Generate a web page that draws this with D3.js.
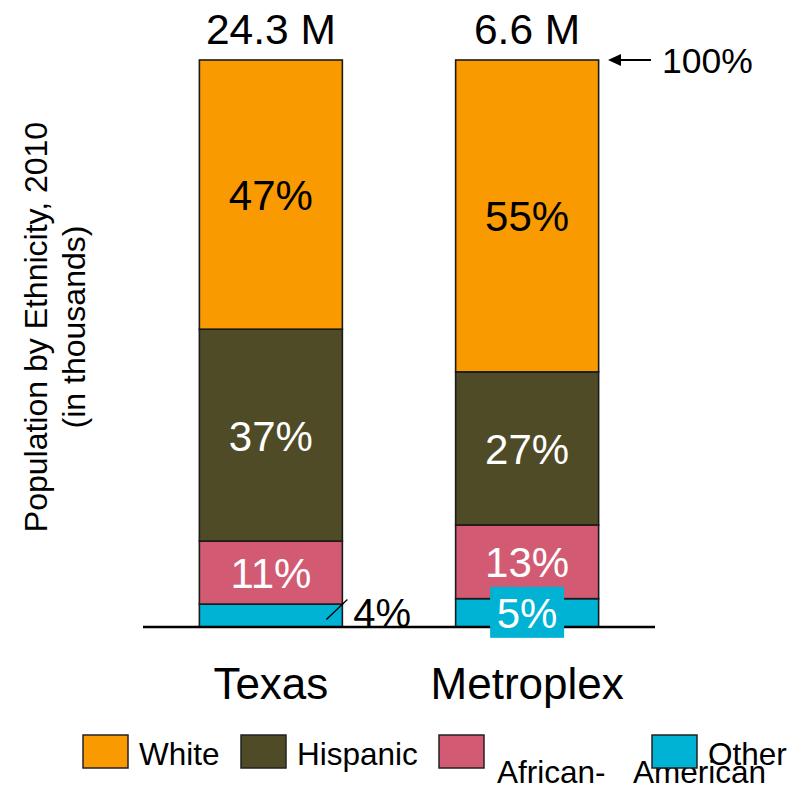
<!DOCTYPE html>
<html>
<head>
<meta charset="utf-8">
<script src="https://cdn.jsdelivr.net/npm/d3@7"></script>
<style>
  html, body { margin: 0; padding: 0; background: #fff; }
  svg { display: block; font-family: "Liberation Sans", Arial, Helvetica, sans-serif; }
</style>
</head>
<body>
<svg id="chart" width="804" height="786"></svg>
<script>
// Population by ethnicity, 2010 — share of total (%)
const categories = ["Texas", "Metroplex"];
const totals = ["24.3 M", "6.6 M"];
const seriesNames = ["White", "Hispanic", "African-American", "Other"];
const white = [47, 55];
const hispanic = [37, 27];
const africanAmerican = [11, 13];
const other = [4, 5];

const colors = ["#F89A00", "#4F4B27", "#D25A72", "#00B2D4"];
const labelColors = ["#000", "#fff", "#fff", "#fff"];

const rows = categories.map((c, i) => ({
  category: c,
  "White": white[i],
  "Hispanic": hispanic[i],
  "African-American": africanAmerican[i],
  "Other": other[i]
}));

const svg = d3.select("#chart");

const x = d3.scaleBand()
  .domain(categories)
  .range([143, 655])
  .paddingInner(0.442)
  .paddingOuter(0.22);

const y = d3.scaleLinear().domain([0, 1]).range([627, 60]);

const color = d3.scaleOrdinal().domain(seriesNames).range(colors);

// Stacked from the bottom: Other, African-American, Hispanic, White
const stackOrder = seriesNames.slice().reverse();
const stack = d3.stack()
  .keys(stackOrder)
  .offset(d3.stackOffsetExpand);
const layers = stack(rows);

const g = svg.append("g");

layers.forEach(layer => {
  g.selectAll(null)
    .data(layer)
    .join("rect")
    .attr("x", d => x(d.data.category))
    .attr("width", x.bandwidth())
    .attr("y", d => y(d[1]))
    .attr("height", d => y(d[0]) - y(d[1]))
    .attr("fill", color(layer.key))
    .attr("stroke", "#1a1a1a")
    .attr("stroke-width", 1.6);
});

// Baseline
svg.append("line")
  .attr("x1", x.range()[0]).attr("x2", x.range()[1])
  .attr("y1", y(0)).attr("y2", y(0))
  .attr("stroke", "#000").attr("stroke-width", 2.5);

const labelSize = 42;

// Segment labels
layers.forEach(layer => {
  const si = seriesNames.indexOf(layer.key);
  layer.forEach(d => {
    const cx = x(d.data.category) + x.bandwidth() / 2;
    const cy = (y(d[0]) + y(d[1])) / 2;
    const text = d.data[layer.key] + "%";
    if (layer.key === "Other" && d.data.category === "Texas") {
      // thin slice: label placed to the right with a leader line
      const x0 = x(d.data.category) + x.bandwidth() - 16;
      svg.append("line")
        .attr("x1", x0).attr("y1", cy + 4)
        .attr("x2", x0 + 21).attr("y2", cy - 16)
        .attr("stroke", "#000").attr("stroke-width", 1.3);
      svg.append("text")
        .attr("x", x0 + 27).attr("y", cy - 3)
        .attr("dominant-baseline", "central")
        .attr("font-size", 40).attr("fill", "#000")
        .text(text);
    } else if (layer.key === "Other") {
      // label on its own box, wider than the slice
      svg.append("rect")
        .attr("x", cx - 37).attr("width", 74)
        .attr("y", cy - 26).attr("height", 51)
        .attr("fill", color(layer.key));
      svg.append("text")
        .attr("x", cx).attr("y", cy + 1)
        .attr("text-anchor", "middle")
        .attr("dominant-baseline", "central")
        .attr("font-size", labelSize).attr("fill", "#fff")
        .text(text);
    } else {
      svg.append("text")
        .attr("x", cx).attr("y", cy + 1)
        .attr("text-anchor", "middle")
        .attr("dominant-baseline", "central")
        .attr("font-size", labelSize)
        .attr("fill", labelColors[si])
        .text(text);
    }
  });
});

// Totals above the bars
svg.selectAll(".total")
  .data(categories)
  .join("text")
  .attr("class", "total")
  .attr("x", d => x(d) + x.bandwidth() / 2)
  .attr("y", 44)
  .attr("text-anchor", "middle")
  .attr("font-size", 42.5)
  .text((d, i) => totals[i]);

// Category labels
svg.selectAll(".cat")
  .data(categories)
  .join("text")
  .attr("class", "cat")
  .attr("x", d => x(d) + x.bandwidth() / 2)
  .attr("y", 699)
  .attr("text-anchor", "middle")
  .attr("font-size", 44)
  .text(d => d);

// 100% marker
const topY = y(1);
svg.append("line")
  .attr("x1", 616).attr("x2", 651)
  .attr("y1", topY).attr("y2", topY)
  .attr("stroke", "#000").attr("stroke-width", 2);
svg.append("path")
  .attr("d", `M608,${topY} L621,${topY - 6} L621,${topY + 6} Z`)
  .attr("fill", "#000");
svg.append("text")
  .attr("x", 662).attr("y", topY + 13)
  .attr("font-size", 35.5)
  .text("100%");

// Axis title
const yt = svg.append("text")
  .attr("transform", "translate(47,327) rotate(-90)")
  .attr("text-anchor", "middle")
  .attr("font-size", 32);
yt.append("tspan").attr("x", 0).attr("y", 0).text("Population by Ethnicity, 2010");
yt.append("tspan").attr("x", 0).attr("dy", 38).text("(in thousands)");

// Legend
const legend = [
  { key: "White", sx: 83, lines: [{ t: "White", x: 139, y: 765 }] },
  { key: "Hispanic", sx: 241, lines: [{ t: "Hispanic", x: 297, y: 765 }] },
  { key: "African-American", sx: 439, lines: [{ t: "African-", x: 497, y: 783 }, { t: "American", x: 633, y: 783 }] },
  { key: "Other", sx: 652, lines: [{ t: "Other", x: 708, y: 765 }] }
];
legend.forEach(item => {
  item.lines.forEach(l => {
    svg.append("text")
      .attr("x", l.x).attr("y", l.y)
      .attr("font-size", 31.5)
      .text(l.t);
  });
  svg.append("rect")
    .attr("x", item.sx).attr("y", 735)
    .attr("width", 45).attr("height", 33)
    .attr("fill", color(item.key))
    .attr("stroke", "#222").attr("stroke-width", 1.5);
});
</script>
</body>
</html>
